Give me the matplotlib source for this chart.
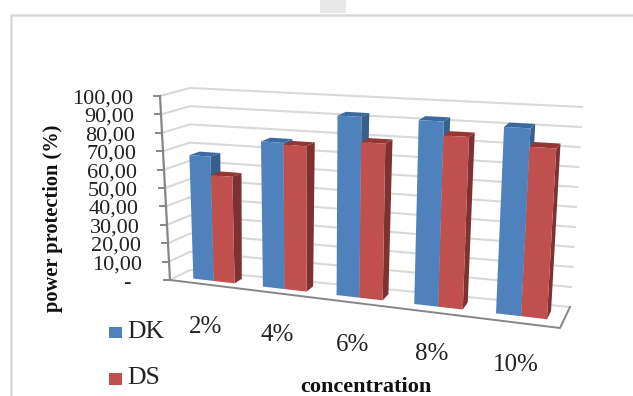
import numpy as np
import matplotlib
matplotlib.use('Agg')
import matplotlib.pyplot as plt
from matplotlib.patches import Polygon, Rectangle

#chart values
categories = ['2%', '4%', '6%', '8%', '10%']
dk_values = [67, 77, 93, 93, 92]
ds_values = [57, 76, 80, 86, 83]
value_ticks = [0, 10, 20, 30, 40, 50, 60, 70, 80, 90, 100]
tick_labels = ['-', '10,00', '20,00', '30,00', '40,00', '50,00', '60,00', '70,00', '80,00', '90,00', '100,00']

BLUE = ['#4F81BD', '#375F8C', '#3A6AA0']
RED = ['#C0504D', '#7D3130', '#943634']
GRID = '#D9D9D9'
AXIS = '#868686'

#box corners in pixels, index is [depth][value]
front_bottom = np.array([[170, 280], [560, 328]], float)
front_top = np.array([[160, 96], [572, 118]], float)
back_bottom = np.array([[190, 270], [570, 307]], float)
back_top = np.array([[190, 88], [582, 107]], float)

plt.rcParams['font.family'] = ['Liberation Serif', 'DejaVu Serif']


def wall_point(u, value, depth):
    v = value / 100
    front = (front_bottom[0] * (1 - v) + front_top[0] * v) * (1 - u) + (front_bottom[1] * (1 - v) + front_top[1] * v) * u
    back = (back_bottom[0] * (1 - v) + back_top[0] * v) * (1 - u) + (back_bottom[1] * (1 - v) + back_top[1] * v) * u
    return front * (1 - depth) + back * depth


def project(cat, value, depth):
    '''
    Category position (0..5), value (0..100) and depth (0 front, 1 back) to pixels
    '''
    u = cat / 5
    #perspective makes the categories wider to the right
    u = 0.0086 + 0.863 * u + 0.131 * u ** 2
    return wall_point(u, value, depth)


def draw_bar(ax, c0, c1, value, colors, z):
    d0, d1 = 0.33, 0.72
    top = [project(c0, value, d0), project(c1, value, d0), project(c1, value, d1), project(c0, value, d1)]
    side = [project(c1, 0, d0), project(c1, value, d0), project(c1, value, d1), project(c1, 0, d1)]
    face = [project(c0, 0, d0), project(c1, 0, d0), project(c1, value, d0), project(c0, value, d0)]
    ax.add_patch(Polygon(side, closed=True, fc=colors[1], ec='none', zorder=z))
    ax.add_patch(Polygon(top, closed=True, fc=colors[2], ec='none', zorder=z))
    ax.add_patch(Polygon(face, closed=True, fc=colors[0], ec='none', zorder=z + 0.1))


fig = plt.figure(figsize=(6.33, 3.96), dpi=100)
ax = fig.add_axes([0, 0, 1, 1])
ax.set_xlim(0, 633)
ax.set_ylim(396, 0)
ax.axis('off')

#outer frame and the grey blob above it
ax.plot([11, 11, 633], [396, 15, 15], color=GRID, lw=1.8, zorder=1)
ax.add_patch(Rectangle((320, 0), 26, 13, fc='#E8E8E8', ec='none', zorder=1))

#grid on the left and back walls
for val in value_ticks:
    a = wall_point(0, val, 0)
    b = wall_point(0, val, 1)
    c = wall_point(1, val, 1)
    ax.plot([a[0], b[0], c[0]], [a[1], b[1], c[1]], color=GRID, lw=1.5, zorder=2)

#floor edge and value axis
corners = [wall_point(0, 0, 0), wall_point(1, 0, 0), wall_point(1, 0, 1)]
ax.plot([p[0] for p in corners], [p[1] for p in corners], color=AXIS, lw=1.4, zorder=3)
a = wall_point(0, 0, 0)
b = wall_point(0, 100, 0)
ax.plot([a[0], b[0]], [a[1], b[1]], color=AXIS, lw=1.6, zorder=3)

for val, lab in zip(value_ticks, tick_labels):
    p = wall_point(0, val, 0)
    ax.plot([p[0] - 6, p[0]], [p[1], p[1]], color=AXIS, lw=1.4, zorder=3)
    x = p[0] - 39 if val == 0 else p[0] - 27
    ax.text(x, p[1] + 3, lab, ha='right', va='center', fontsize=16, color='#222222')

#bars, left to right
for i, name in enumerate(categories):
    draw_bar(ax, i + 0.2, i + 0.5, dk_values[i], BLUE, 4 + i)
    draw_bar(ax, i + 0.5, i + 0.8, ds_values[i], RED, 4.3 + i)

#category labels follow the floor edge
for i, name in enumerate(categories):
    p = project(i + 0.5, 0, 0)
    ax.text(p[0] - 2, p[1] + 42, name, ha='center', va='center', fontsize=18, color='#222222')

ax.text(53, 218, 'power protection (%)', rotation=90, ha='center', va='center',
        fontsize=14.7, fontweight='bold', color='#111111')
ax.text(366, 387, 'concentration', ha='center', va='center', fontsize=16, fontweight='bold', color='#111111')

#legend
ax.add_patch(Rectangle((109, 327), 13, 11, fc=BLUE[0], ec='none'))
ax.add_patch(Rectangle((109, 373), 13, 12, fc=RED[0], ec='none'))
ax.text(127, 332, 'DK', ha='left', va='center', fontsize=18.5, color='#222222')
ax.text(127, 378, 'DS', ha='left', va='center', fontsize=18.5, color='#222222')

fig.savefig('out.png', dpi=100)
